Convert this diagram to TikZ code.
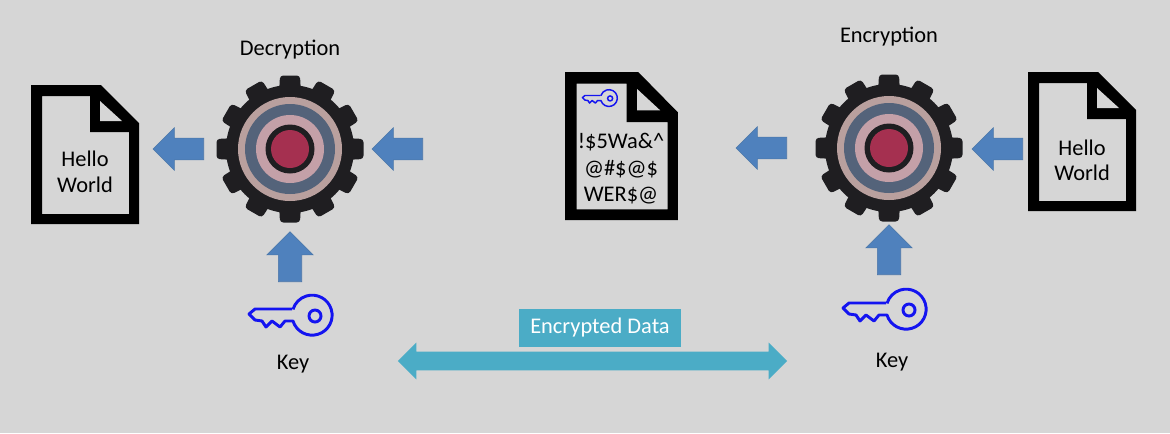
\documentclass[tikz,border=0pt]{standalone}
\usepackage{fontspec}
\setmainfont{Carlito}
\usetikzlibrary{shapes.arrows}
\definecolor{bgGray}{HTML}{D6D6D6}
\definecolor{arrowBlue}{HTML}{4F81BD}
\definecolor{arrowEdge}{HTML}{4A76A8}
\definecolor{dataTeal}{HTML}{4BACC6}
\definecolor{gearBlack}{HTML}{1F1E21}
\definecolor{ringTan}{HTML}{B9A09E}
\definecolor{ringSlate}{HTML}{54637A}
\definecolor{ringPink}{HTML}{C4A0A8}
\definecolor{ringRed}{HTML}{A53050}
\definecolor{keyBlue}{HTML}{1414F0}
\tikzset{
    label text/.style={font=\fontsize{16.8}{20}\selectfont, text=black, inner sep=0pt},
    arrow left/.style={shape=single arrow, fill=arrowBlue, draw=arrowEdge, line width=0.4pt, inner sep=7.9pt,
        minimum height=38pt, minimum width=31.5pt, single arrow head extend=7.9pt,
        single arrow head indent=0pt, shape border rotate=180, anchor=tail},
    arrow up/.style={arrow left, inner sep=8.6pt, minimum height=37.5pt, minimum width=34.5pt,
        single arrow head extend=8.6pt, shape border rotate=90},
    gear/.pic={
        \fill[gearBlack] (0,0) circle (64);
        \foreach \ang in {0,30,...,330}
            \fill[gearBlack, rotate=\ang, rounded corners=2.5] (-11,-55) -- (-10,-73.5) -- (10,-73.5) -- (11,-55) -- cycle;
        \fill[ringTan] (0,0) circle (52);
        \fill[ringSlate] (0,0) circle (45);
        \fill[ringPink] (0,0) circle (34);
        \fill[gearBlack] (0,0) circle (24.5);
        \fill[ringRed] (0,0) circle (19);
    },
    docpage/.pic={
        \fill[black, even odd rule] (0,0) -- (70,0) -- (108,38) -- (108,139) -- (0,139) -- cycle
            (11,11) -- (59,11) -- (59,47) -- (98,47) -- (98,129) -- (11,129) -- cycle;
        \fill[bgGray] (69,16) -- (69,36) -- (91,36) -- cycle;
    },
    keyicon/.pic={
        \draw[keyBlue, line join=round, pic actions]
            (44,-6) -- (7,-6) -- (1,-1) -- (7,5) -- (14,6) -- (18,12) -- (24,6)
            -- (32,12) -- (37,6) -- (45,6)
            arc[start angle=163, end angle=-163, radius=20];
        \draw[keyBlue, pic actions] (67,1) circle (6);
    },
}
\begin{document}
\begin{tikzpicture}[x=0.75pt, y=-0.75pt]
    \fill[bgGray] (0,0) rectangle (1170,433);
    \useasboundingbox (0,0) rectangle (1170,433);

    \pic at (31,85) {docpage};
    \pic[xscale=1.046, yscale=1.065] at (565,72) {docpage};
    \pic at (1028,72) {docpage};

    \pic at (290,149) {gear};
    \pic at (889,148) {gear};

    \node[arrow left] (arrL1) at (204,149) {};
    \node[arrow left] (arrL2) at (423,149) {};
    \node[arrow up] (arrUpDec) at (290,282) {};
    \node[arrow left] (arrR1) at (787,148) {};
    \node[arrow left] (arrR2) at (1023,149) {};
    \node[arrow up] (arrUpEnc) at (889,275) {};

    \pic[line width=2.2pt] at (248,315) {keyicon};
    \pic[line width=2.2pt] at (842,309) {keyicon};
    \pic[scale=0.42, line width=1.1pt] at (582,98) {keyicon};

    \node[label text] (DecText) at (290,50) {Decryption};
    \node[label text] (EncText) at (889,37) {Encryption};
    \node[label text] (KeyL) at (293,364) {Key};
    \node[label text] (KeyR) at (892,362) {Key};
    \node[label text] (HelloL) at (85,159) {Hello};
    \node[label text] (WorldL) at (85,185) {World};
    \node[label text] (HelloR) at (1082,148) {Hello};
    \node[label text] (WorldR) at (1082,173) {World};
    \node[label text] (CipherA) at (621,142) {!\$5Wa\&\textasciicircum};
    \node[label text] (CipherB) at (621,169) {@\#\$@\$};
    \node[label text] (CipherC) at (621,196) {WER\$@};

    \node[fill=dataTeal, text=white, font=\fontsize{16.8}{20}\selectfont, inner sep=0pt,
        minimum width=121.5pt, minimum height=28.5pt] (DataBox) at (600,328) {Encrypted Data};
    \node[shape=double arrow, fill=dataTeal, inner sep=6.75pt, minimum height=292pt, minimum width=27pt,
        double arrow head extend=6.9pt, double arrow head indent=0pt] (DataArrow) at (592.5,361) {};
\end{tikzpicture}
\end{document}
